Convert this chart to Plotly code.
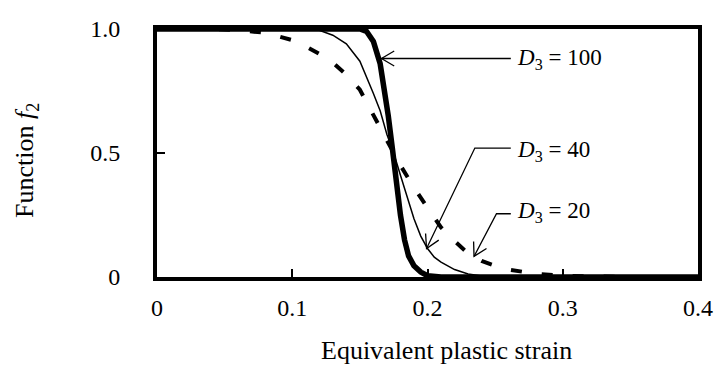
import numpy as np
import plotly.graph_objects as go

# Equivalent plastic strain samples and the damage function f2 for three D3 values
strain_d20 = [0.0, 0.02, 0.04, 0.06, 0.08, 0.09, 0.10, 0.11, 0.12, 0.13, 0.14, 0.15,
              0.16, 0.17, 0.175, 0.18, 0.19, 0.20, 0.21, 0.22, 0.23, 0.24, 0.25, 0.26,
              0.28, 0.30, 0.32, 0.35, 0.40]
f2_d20 = [1.0, 1.0, 1.0, 0.995, 0.985, 0.97, 0.955, 0.93, 0.90, 0.865, 0.815, 0.755,
          0.65, 0.55, 0.50, 0.45, 0.36, 0.28, 0.20, 0.145, 0.095, 0.065, 0.045, 0.03,
          0.013, 0.005, 0.002, 0.0, 0.0]

strain_d40 = [0.0, 0.05, 0.10, 0.115, 0.12, 0.13, 0.14, 0.15, 0.16, 0.165, 0.17, 0.175,
              0.18, 0.185, 0.19, 0.195, 0.20, 0.205, 0.21, 0.22, 0.23, 0.24, 0.25, 0.30, 0.40]
f2_d40 = [1.0, 1.0, 1.0, 1.0, 0.995, 0.975, 0.94, 0.87, 0.74, 0.67, 0.575, 0.50,
          0.41, 0.32, 0.235, 0.165, 0.115, 0.08, 0.06, 0.03, 0.012, 0.004, 0.0, 0.0, 0.0]

strain_d100 = [0.0, 0.05, 0.10, 0.15, 0.155, 0.16, 0.165, 0.168, 0.171, 0.174, 0.177,
               0.18, 0.183, 0.186, 0.19, 0.195, 0.20, 0.21, 0.30, 0.40]
f2_d100 = [1.0, 1.0, 1.0, 1.0, 0.99, 0.95, 0.86, 0.77, 0.65, 0.52, 0.38,
           0.25, 0.15, 0.085, 0.045, 0.02, 0.005, 0.0, 0.0, 0.0]

x_ticks = [0, 0.1, 0.2, 0.3, 0.4]
x_tick_text = ["0", "0.1", "0.2", "0.3", "0.4"]
y_ticks = [0, 0.5, 1.0]
y_tick_text = ["0", "0.5", "1.0"]

# curve labels: text, label position, leader elbow and arrow tip (strain, f2)
labels = ["<i>D</i><sub>3</sub> = 100", "<i>D</i><sub>3</sub> = 40", "<i>D</i><sub>3</sub> = 20"]
label_x = 0.265
label_y = [0.881, 0.508, 0.262]
leader_start_x = 0.2616
leader_y = [0.881, 0.52, 0.255]
elbow_x = [0.2616, 0.235, 0.251]
tip_x = [0.166, 0.1993, 0.2344]
tip_y = [0.881, 0.115, 0.083]

FONT = "Liberation Serif, Times New Roman, serif"
W, H = 725, 365
M = dict(l=157, r=14, t=29, b=88)
X_RANGE = [0, 0.4]
Y_RANGE = [0, 1.0]

# pixels per data unit, used to shape the open arrowheads
px_x = (W - M["l"] - M["r"]) / (X_RANGE[1] - X_RANGE[0])
px_y = (H - M["t"] - M["b"]) / (Y_RANGE[1] - Y_RANGE[0])


def arrow_head_path(x0, y0, x1, y1, length=13.0, half_width=7.5):
    """Open V arrowhead at (x1, y1) for a segment coming from (x0, y0)."""
    d = np.array([(x1 - x0) * px_x, (y1 - y0) * px_y])
    u = d / np.linalg.norm(d)
    n = np.array([-u[1], u[0]])
    base = -length * u
    p1 = base + half_width * n
    p2 = base - half_width * n
    a = (x1 + p1[0] / px_x, y1 + p1[1] / px_y)
    b = (x1 + p2[0] / px_x, y1 + p2[1] / px_y)
    return f"M {a[0]},{a[1]} L {x1},{y1} L {b[0]},{b[1]}"


fig = go.Figure()
fig.add_trace(go.Scatter(x=strain_d20, y=f2_d20, mode="lines",
                         line=dict(color="black", width=4, dash="11px,20px"),
                         showlegend=False))
fig.add_trace(go.Scatter(x=strain_d40, y=f2_d40, mode="lines",
                         line=dict(color="black", width=1.5),
                         showlegend=False))
fig.add_trace(go.Scatter(x=strain_d100, y=f2_d100, mode="lines",
                         line=dict(color="black", width=5.5),
                         showlegend=False))

leader_style = dict(color="black", width=1.3)
for i, txt in enumerate(labels):
    pts_x = [leader_start_x, elbow_x[i], tip_x[i]]
    pts_y = [leader_y[i], leader_y[i], tip_y[i]]
    path = "M " + " L ".join(f"{px},{py}" for px, py in zip(pts_x, pts_y))
    fig.add_shape(type="path", xref="x", yref="y", path=path, line=leader_style)
    fig.add_shape(type="path", xref="x", yref="y",
                  path=arrow_head_path(elbow_x[i] if elbow_x[i] != tip_x[i] else leader_start_x,
                                       leader_y[i], tip_x[i], tip_y[i]),
                  line=leader_style)
    fig.add_annotation(x=label_x, y=label_y[i], xref="x", yref="y",
                       text=txt, showarrow=False, xanchor="left", yanchor="middle",
                       font=dict(family=FONT, size=23, color="black"))

fig.add_annotation(x=0.536, y=-0.298, xref="paper", yref="paper",
                   text="Equivalent plastic strain", showarrow=False,
                   xanchor="center", yanchor="middle",
                   font=dict(family=FONT, size=26, color="black"))
fig.add_annotation(x=-0.242, y=0.468, xref="paper", yref="paper",
                   text="Function <i>f</i><sub>2</sub>", showarrow=False, textangle=-90,
                   xanchor="center", yanchor="middle",
                   font=dict(family=FONT, size=26, color="black"))

axis_common = dict(showgrid=False, zeroline=False, showline=True, linecolor="black",
                   linewidth=4, mirror=True, ticks="inside", ticklen=8, tickwidth=2,
                   tickcolor="black", tickfont=dict(family=FONT, size=24, color="black"))

fig.update_xaxes(range=X_RANGE, tickvals=x_ticks, ticktext=x_tick_text,
                 ticklabelstandoff=6, **axis_common)
fig.update_yaxes(range=Y_RANGE, tickvals=y_ticks, ticktext=y_tick_text,
                 ticklabelstandoff=28, **axis_common)

fig.update_layout(width=W, height=H, margin=M,
                  paper_bgcolor="white", plot_bgcolor="white",
                  font=dict(family=FONT, color="black"))

fig.write_html("out.html")
